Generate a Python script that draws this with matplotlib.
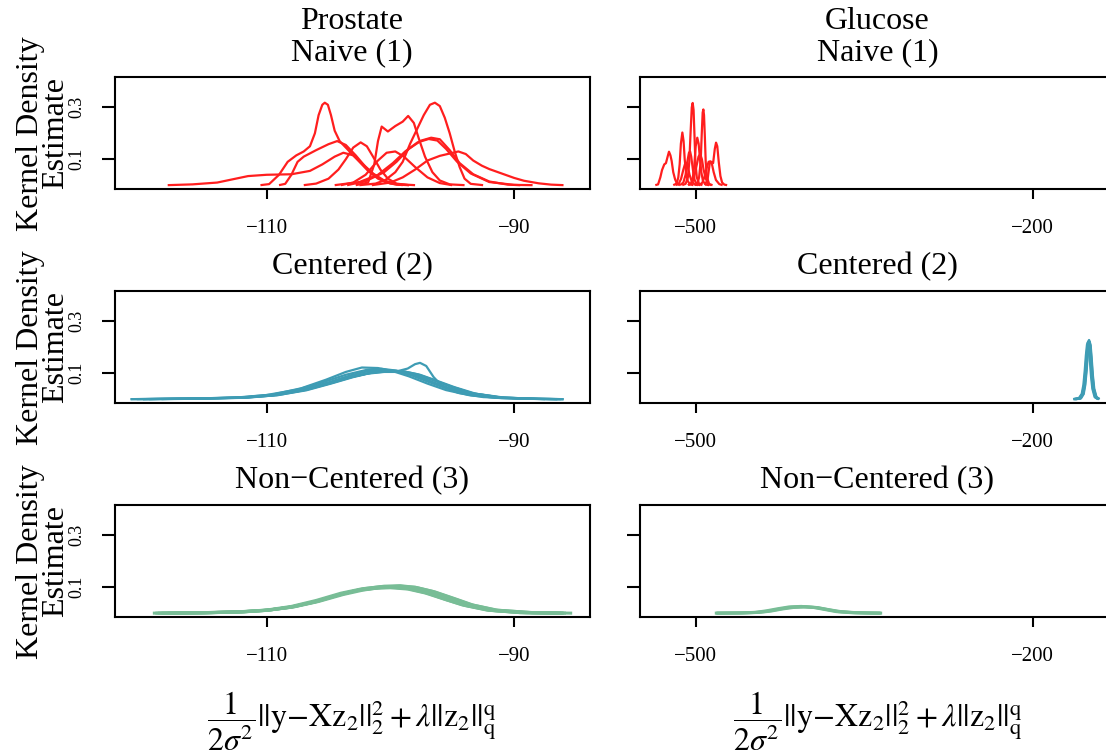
import matplotlib
matplotlib.use("Agg")
import matplotlib.pyplot as plt

# ---------------- data ----------------
x_ticks_prostate = [-110, -90]
x_ticks_glucose = [-500, -200]
y_ticks = [0.1, 0.3]
col_titles = ["Prostate", "Glucose"]
row_titles = ["Naive (1)", "Centered (2)", "Non\u2212Centered (3)"]

# Prostate, Naive (1) - red
pn_x = [
    [-110.5, -109.8, -109.0, -108.3, -107.6, -107.0, -106.5, -106.1, -105.8, -105.5, -105.3, -105.05, -104.8, -104.5, -104.1, -103.4, -102.6, -101.8, -101.0, -100.0, -99.0],
    [-109, -108.5, -108.0, -107.5, -107.0, -106.0, -105.0, -104.3, -103.6, -102.8, -102.0, -101.2, -100.4, -99.5, -98.5],
    [-118, -116, -114, -112.5, -111.5, -110, -108, -106.5, -105.5, -104.5, -103.8, -103.0, -102.2, -101.4, -100.5, -99.5, -98.0],
    [-107, -106, -105, -104.2, -103.6, -103.0, -102.4, -101.9, -101.4, -100.8, -100.2, -99.5, -98.5],
    [-102.8, -101.8, -101.3, -101.0, -100.7, -100.2, -99.6, -99.0, -98.56, -98.1, -97.7, -97.2, -96.6, -96.0, -95.2, -94.0],
    [-102.5, -101.2, -100.4, -99.6, -99.0, -98.4, -97.8, -97.3, -96.8, -96.4, -96.0, -95.6, -95.2, -94.8, -94.4, -94.0, -93.5, -92.5],
    [-104, -103, -102, -101, -100.3, -99.6, -98.9, -98.0, -97.0, -96.0, -95],
    [-101.5, -100, -99, -98, -97, -96, -95.2, -94.5, -93.9, -93.3, -92.6, -92, -91, -90, -89.2, -88, -87, -86],
    [-103.5, -102, -100.5, -99.5, -98.5, -97.5, -96.7, -96.0, -95.2, -94.4, -93.3, -92.0, -90.5, -89.5],
    [-104.5, -102.5, -101.0, -99.8, -98.8, -97.8, -96.9, -96.2, -95.5, -94.6, -93.5, -92.0, -90.0, -88.5],
]
pn_y = [
    [0, 0.004, 0.04, 0.09, 0.115, 0.13, 0.15, 0.2, 0.27, 0.31, 0.318, 0.31, 0.27, 0.21, 0.17, 0.135, 0.095, 0.055, 0.025, 0.006, 0],
    [0, 0.005, 0.04, 0.09, 0.11, 0.135, 0.158, 0.17, 0.155, 0.115, 0.07, 0.035, 0.012, 0.002, 0],
    [0, 0.003, 0.01, 0.025, 0.035, 0.04, 0.042, 0.055, 0.08, 0.11, 0.125, 0.115, 0.08, 0.045, 0.018, 0.004, 0],
    [0, 0.006, 0.025, 0.06, 0.1, 0.145, 0.165, 0.15, 0.11, 0.06, 0.025, 0.006, 0],
    [0, 0.01, 0.08, 0.17, 0.226, 0.207, 0.228, 0.245, 0.267, 0.24, 0.18, 0.11, 0.05, 0.018, 0.003, 0],
    [0, 0.006, 0.02, 0.05, 0.09, 0.16, 0.22, 0.27, 0.31, 0.318, 0.305, 0.26, 0.2, 0.13, 0.07, 0.025, 0.005, 0],
    [0, 0.01, 0.04, 0.095, 0.125, 0.13, 0.11, 0.07, 0.03, 0.008, 0],
    [0, 0.01, 0.03, 0.06, 0.095, 0.113, 0.122, 0.13, 0.12, 0.095, 0.075, 0.062, 0.045, 0.028, 0.017, 0.007, 0.002, 0],
    [0, 0.015, 0.05, 0.09, 0.14, 0.172, 0.183, 0.177, 0.135, 0.085, 0.042, 0.014, 0.002, 0],
    [0, 0.012, 0.04, 0.085, 0.13, 0.165, 0.178, 0.172, 0.14, 0.09, 0.045, 0.012, 0.001, 0],
]

# Glucose, Naive (1) - red
gn_x = [
    [-536, -533.5, -531.5, -530, -528, -526.5, -525, -523.8, -522.5, -521.4, -520, -518.4, -516.5, -514],
    [-512, -509, -507, -505.7, -504.6, -503.5, -502.7, -501.9, -501.0, -500.3, -499, -497, -494],
    [-501, -498.5, -497, -495.6, -494.6, -493.8, -493.2, -492.6, -491.8, -491.1, -490, -488, -485],
    [-520, -517, -515.5, -514.3, -513.2, -511.9, -510.8, -509.8, -508.5, -507, -505, -502],
    [-507, -504, -502.5, -501.2, -500, -498.6, -497.4, -496.2, -495, -493.5, -491, -488],
    [-492, -489.5, -487.5, -486, -484.5, -483, -481.9, -480.8, -479.5, -478, -476.5, -474.5, -472],
    [-514, -511, -509, -507.5, -506, -505, -504, -502.5, -501, -499, -496],
    [-506, -503, -501, -499, -497.5, -496, -494.5, -493, -491, -489, -486],
    [-497, -494, -492, -490, -488.5, -487, -485.5, -484, -482, -479, -476],
    [-518, -515, -513, -511, -509.5, -508.5, -507, -505.5, -503.5, -501, -498],
]
gn_y = [
    [0, 0.003, 0.03, 0.058, 0.08, 0.085, 0.11, 0.129, 0.115, 0.093, 0.05, 0.023, 0.004, 0],
    [0, 0.005, 0.03, 0.09, 0.2, 0.3, 0.317, 0.29, 0.18, 0.09, 0.03, 0.005, 0],
    [0, 0.005, 0.03, 0.09, 0.2, 0.28, 0.292, 0.27, 0.18, 0.09, 0.03, 0.004, 0],
    [0, 0.006, 0.03, 0.08, 0.16, 0.203, 0.17, 0.1, 0.045, 0.015, 0.003, 0],
    [0, 0.008, 0.03, 0.08, 0.15, 0.183, 0.16, 0.1, 0.05, 0.015, 0.002, 0],
    [0, 0.02, 0.085, 0.09, 0.085, 0.14, 0.164, 0.15, 0.09, 0.035, 0.01, 0.002, 0],
    [0, 0.01, 0.04, 0.09, 0.125, 0.13, 0.11, 0.06, 0.02, 0.003, 0],
    [0, 0.01, 0.04, 0.08, 0.11, 0.12, 0.1, 0.06, 0.025, 0.005, 0],
    [0, 0.01, 0.035, 0.07, 0.09, 0.092, 0.08, 0.05, 0.02, 0.004, 0],
    [0, 0.006, 0.025, 0.06, 0.082, 0.085, 0.07, 0.04, 0.015, 0.003, 0],
]

# Prostate, Centered (2) - teal
pc_x = [
    [-121, -116, -112, -109.5, -107, -105, -103.2, -101.8, -100.5, -99.4, -98.6, -98.0, -97.6, -97.1, -96.5, -95.8, -94.5, -92.5, -89.5, -86],
    [-120, -116, -112, -109.5, -107.2, -105.2, -103.6, -102.3, -101.0, -99.8, -98.5, -97, -95.5, -93.5, -91, -87.5],
    [-120.5, -116, -112, -109.5, -107, -105, -103.2, -101.8, -100.6, -99.4, -98.2, -96.8, -95.3, -93.6, -91.2, -88, -86.2],
    [-119.5, -115.5, -111.8, -109.2, -106.8, -104.8, -103, -101.5, -100.2, -99, -97.8, -96.5, -95, -93.3, -91, -88, -86.5],
    [-121, -116.5, -112.5, -110, -107.5, -105.4, -103.6, -102, -100.7, -99.5, -98.3, -97, -95.5, -93.8, -91.5, -88.5, -86],
    [-120, -115.8, -112, -109.6, -107.2, -105.2, -103.4, -101.9, -100.5, -99.3, -98.1, -96.7, -95.2, -93.5, -91.2, -88.2, -86.5],
    [-118.5, -115, -111.5, -109, -106.7, -104.7, -102.9, -101.4, -100, -98.8, -97.6, -96.3, -94.8, -93.1, -90.8, -88, -86],
]
pc_y = [
    [0, 0.002, 0.006, 0.015, 0.035, 0.06, 0.085, 0.1, 0.106, 0.108, 0.118, 0.135, 0.14, 0.128, 0.085, 0.05, 0.024, 0.008, 0.002, 0],
    [0, 0.002, 0.007, 0.018, 0.042, 0.075, 0.105, 0.122, 0.12, 0.108, 0.088, 0.06, 0.035, 0.014, 0.004, 0],
    [0, 0.002, 0.006, 0.016, 0.038, 0.065, 0.092, 0.108, 0.112, 0.108, 0.094, 0.07, 0.044, 0.02, 0.006, 0.001, 0],
    [0, 0.002, 0.006, 0.015, 0.034, 0.06, 0.085, 0.102, 0.11, 0.108, 0.096, 0.074, 0.047, 0.022, 0.006, 0.001, 0],
    [0, 0.002, 0.006, 0.016, 0.037, 0.066, 0.094, 0.112, 0.117, 0.11, 0.092, 0.068, 0.042, 0.019, 0.005, 0.001, 0],
    [0, 0.002, 0.005, 0.014, 0.033, 0.058, 0.083, 0.098, 0.105, 0.105, 0.096, 0.076, 0.05, 0.024, 0.007, 0.001, 0],
    [0, 0.002, 0.006, 0.016, 0.037, 0.063, 0.088, 0.104, 0.11, 0.106, 0.094, 0.072, 0.046, 0.021, 0.006, 0.001, 0],
]

# Glucose, Centered (2) - teal
gc_x = [
    [-163, -158, -155.5, -154, -152.8, -151.8, -150.8, -150.0, -149.2, -148.3, -147.2, -146, -144, -141],
    [-162, -157.5, -155, -153.5, -152.3, -151.3, -150.3, -149.5, -148.7, -147.8, -146.7, -145.5, -143.5, -140.5],
    [-164, -159, -156.3, -154.8, -153.6, -152.6, -151.6, -150.8, -150, -149.1, -148, -146.8, -144.8, -142],
    [-162.5, -157.8, -155.2, -153.8, -152.6, -151.6, -150.6, -149.8, -149, -148.1, -147, -145.8, -143.8, -141],
    [-163.5, -158.5, -155.8, -154.3, -153.1, -152.1, -151.1, -150.3, -149.5, -148.6, -147.5, -146.3, -144.3, -141.5],
    [-161.5, -157, -154.6, -153.2, -152, -151, -150, -149.2, -148.4, -147.5, -146.4, -145.2, -143.2, -140.5],
]
gc_y = [
    [0, 0.003, 0.02, 0.055, 0.11, 0.17, 0.215, 0.225, 0.21, 0.16, 0.09, 0.04, 0.008, 0],
    [0, 0.003, 0.02, 0.055, 0.11, 0.17, 0.212, 0.222, 0.207, 0.158, 0.09, 0.04, 0.008, 0],
    [0, 0.003, 0.02, 0.055, 0.11, 0.168, 0.21, 0.22, 0.205, 0.155, 0.088, 0.04, 0.008, 0],
    [0, 0.003, 0.02, 0.056, 0.112, 0.172, 0.218, 0.228, 0.212, 0.16, 0.09, 0.04, 0.008, 0],
    [0, 0.003, 0.02, 0.054, 0.108, 0.166, 0.21, 0.219, 0.204, 0.155, 0.088, 0.04, 0.008, 0],
    [0, 0.003, 0.02, 0.055, 0.11, 0.169, 0.212, 0.221, 0.206, 0.157, 0.09, 0.04, 0.008, 0],
]

# Prostate, Non-Centered (3) - green
pnc_x = [
    [-119.2, -115, -112, -110, -108, -106, -104, -102.5, -101, -99.8, -98.5, -97, -95.5, -94, -92, -89.5, -85.3],
    [-118.5, -115, -112, -110, -108, -106, -104, -102.3, -100.8, -99.5, -98.2, -96.8, -95.3, -93.8, -91.8, -89, -86],
    [-118, -114.5, -111.8, -109.8, -107.8, -105.8, -103.8, -102.2, -100.6, -99.3, -98, -96.6, -95, -93.5, -91.5, -88.5, -85.8],
    [-119, -115.5, -112.3, -110.2, -108.2, -106.2, -104.2, -102.6, -101.2, -100, -98.6, -97.2, -95.7, -94.2, -92.2, -89.5, -86.5],
    [-117.5, -114.5, -111.8, -109.6, -107.6, -105.6, -103.6, -102, -100.5, -99.2, -97.9, -96.4, -94.8, -93.3, -91.3, -88.5, -86],
    [-118.8, -115.2, -112.2, -110, -108, -106, -104, -102.4, -100.9, -99.6, -98.3, -96.9, -95.4, -93.9, -91.9, -89.2, -86.2],
]
pnc_y = [
    [0, 0.002, 0.005, 0.011, 0.024, 0.046, 0.074, 0.09, 0.098, 0.1, 0.094, 0.077, 0.052, 0.03, 0.011, 0.002, 0],
    [0, 0.002, 0.006, 0.012, 0.026, 0.049, 0.077, 0.094, 0.102, 0.103, 0.096, 0.078, 0.053, 0.03, 0.011, 0.002, 0],
    [0, 0.002, 0.005, 0.012, 0.024, 0.045, 0.072, 0.089, 0.1, 0.104, 0.1, 0.084, 0.058, 0.033, 0.012, 0.002, 0],
    [0, 0.001, 0.004, 0.01, 0.022, 0.042, 0.07, 0.088, 0.096, 0.098, 0.093, 0.078, 0.055, 0.032, 0.012, 0.002, 0],
    [0, 0.002, 0.006, 0.013, 0.027, 0.05, 0.078, 0.095, 0.104, 0.106, 0.099, 0.082, 0.056, 0.031, 0.011, 0.002, 0],
    [0, 0.001, 0.005, 0.011, 0.023, 0.044, 0.073, 0.091, 0.099, 0.101, 0.095, 0.079, 0.054, 0.031, 0.011, 0.002, 0],
]

# Glucose, Non-Centered (3) - green
gnc_x = [
    [-483, -460, -445, -435, -425, -415, -404, -393, -383, -373, -360, -345, -334],
    [-481, -458, -443, -433, -423, -413, -402, -391, -381, -371, -358, -343, -335],
    [-482, -462, -447, -437, -427, -417, -406, -395, -385, -375, -362, -347, -336],
]
gnc_y = [
    [0, 0.0008, 0.003, 0.008, 0.016, 0.023, 0.025, 0.022, 0.014, 0.006, 0.002, 0.0005, 0],
    [0, 0.0008, 0.003, 0.008, 0.016, 0.022, 0.024, 0.021, 0.013, 0.006, 0.002, 0.0005, 0],
    [0, 0.0008, 0.003, 0.009, 0.017, 0.024, 0.026, 0.022, 0.014, 0.006, 0.002, 0.0005, 0],
]

# ---------------- styling / layout ----------------
RED = "#FF1E1E"
TEAL = "#3E9CB4"
GREEN = "#78BD96"
SERIF = ["Liberation Serif", "DejaVu Serif"]

plt.rcParams["font.family"] = SERIF
plt.rcParams["mathtext.fontset"] = "stix"
plt.rcParams["axes.unicode_minus"] = True

W, H = 1106, 752
fig = plt.figure(figsize=(W / 100, H / 100), dpi=100)

col_left = [114.5, 640.0]
panel_w = 475.0
panel_h = 112.0
row_bottom = [189.3, 403.3, 617.3]

xlims = [(-122.3, -83.9), (-549.6, -126.7)]
xticks = [x_ticks_prostate, x_ticks_glucose]
ylim = (-0.016, 0.416)

panels = {
    (0, 0): (pn_x, pn_y, RED, 1.6),
    (0, 1): (gn_x, gn_y, RED, 1.6),
    (1, 0): (pc_x, pc_y, TEAL, 1.6),
    (1, 1): (gc_x, gc_y, TEAL, 1.7),
    (2, 0): (pnc_x, pnc_y, GREEN, 2.2),
    (2, 1): (gnc_x, gnc_y, GREEN, 2.2),
}

def fmt(v):
    s = ("%g" % v)
    return s.replace("-", "\u2212")

for r in range(3):
    for c in range(2):
        l = col_left[c] / W
        b = 1 - row_bottom[r] / H
        ax = fig.add_axes([l, b, panel_w / W, panel_h / H])
        xs, ys, color, lw = panels[(r, c)]
        for xv, yv in zip(xs, ys):
            ax.plot(xv, yv, color=color, lw=lw, solid_joinstyle="round", solid_capstyle="butt")
        ax.set_xlim(*xlims[c])
        ax.set_ylim(*ylim)
        for sp in ax.spines.values():
            sp.set_linewidth(1.5)
        ax.set_xticks(xticks[c])
        ax.set_xticklabels([fmt(v) for v in xticks[c]], fontsize=15)
        ax.set_yticks(y_ticks)
        if c == 0:
            ax.set_yticklabels([fmt(v) for v in y_ticks], fontsize=13, rotation=90, va="center")
        else:
            ax.set_yticklabels([])
        ax.tick_params(axis="x", length=7, width=1.5, pad=14.5)
        ax.tick_params(axis="y", length=9.5, width=1.5, pad=11.5)
        # titles
        cx = (col_left[c] + panel_w / 2) / W
        top_px = row_bottom[r] - panel_h
        fig.text(cx, 1 - (top_px - 17) / H, row_titles[r], ha="center", va="baseline", fontsize=23)
        if r == 0:
            fig.text(cx, 1 - (top_px - 48) / H, col_titles[c], ha="center", va="baseline", fontsize=23)
        if c == 0:
            cy = 1 - (row_bottom[r] - panel_h / 2) / H
            fig.text(43 / W, cy, "Kernel Density\nEstimate", rotation=90, rotation_mode="anchor",
                     ha="center", va="center", fontsize=23, linespacing=0.8,
                     multialignment="center")

xlabel = r"$\dfrac{1}{2\sigma^2}||\mathrm{y}{-}\mathrm{Xz}_2||_2^2+\lambda||\mathrm{z}_2||_\mathrm{q}^\mathrm{q}$"
for c in range(2):
    cx = (col_left[c] + panel_w / 2) / W
    fig.text(cx, 1 - 727 / H, xlabel, ha="center", va="baseline", fontsize=23)

fig.savefig("out.png", dpi=100)
